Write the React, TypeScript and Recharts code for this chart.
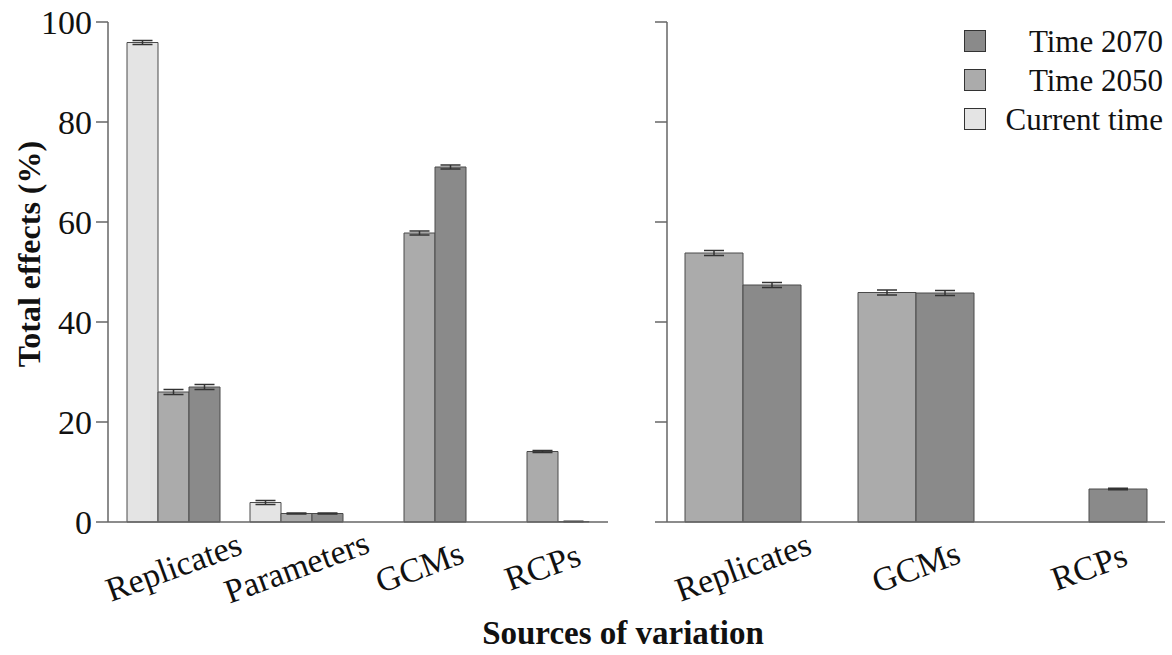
import React from "react";
import { Bar, BarChart, ErrorBar, XAxis, YAxis } from "recharts";

const leftCategories = ["Replicates", "Parameters", "GCMs", "RCPs"];
const leftCurrent = [95.9, 3.9, 0, 0];
const leftT2050 = [26.0, 1.7, 57.8, 14.1];
const leftT2070 = [27.0, 1.7, 71.0, 0.1];
const leftErrCurrent = [0.4, 0.4, 0, 0];
const leftErr2050 = [0.5, 0.1, 0.4, 0.2];
const leftErr2070 = [0.5, 0.1, 0.4, 0.05];

const rightCategories = ["Replicates", "GCMs", "RCPs"];
const rightT2050 = [53.8, 45.9, 0];
const rightT2070 = [47.4, 45.8, 6.6];
const rightErr2050 = [0.5, 0.5, 0];
const rightErr2070 = [0.5, 0.5, 0.15];

const yTicks = [0, 20, 40, 60, 80, 100];

const FONT = '"Liberation Serif", "Times New Roman", serif';
const COLORS = { current: "#e4e4e4", t2050: "#ababab", t2070: "#8a8a8a" };
const AXIS = "#666";
const BAR_STROKE = "#4a4a4a";

const leftData = leftCategories.map((name, i) => ({
  name,
  current: leftCurrent[i],
  t2050: leftT2050[i],
  t2070: leftT2070[i],
  eCurrent: leftErrCurrent[i],
  e2050: leftErr2050[i],
  e2070: leftErr2070[i],
}));

const rightData = rightCategories.map((name, i) => ({
  name,
  t2050: rightT2050[i],
  t2070: rightT2070[i],
  e2050: rightErr2050[i],
  e2070: rightErr2070[i],
}));

const legend = [
  { label: "Time 2070", color: COLORS.t2070 },
  { label: "Time 2050", color: COLORS.t2050 },
  { label: "Current time", color: COLORS.current },
];

function RotatedTick({ x, y, payload }: { x?: number; y?: number; payload?: { value: string } }) {
  const cy = (y ?? 0) + 45;
  return (
    <text
      x={x}
      y={cy}
      textAnchor="middle"
      dominantBaseline="central"
      transform={`rotate(-20 ${x} ${cy})`}
      fontFamily={FONT}
      fontSize={34}
      fill="#111"
    >
      {payload?.value}
    </text>
  );
}

function errorBar(key: string) {
  return <ErrorBar dataKey={key} width={10} stroke="#333" strokeWidth={1.5} />;
}

export default function App() {
  return (
    <div
      style={{
        position: "absolute",
        left: 0,
        top: 0,
        width: 1172,
        height: 655,
        background: "#fff",
        fontFamily: FONT,
        color: "#111",
      }}
    >
      <div style={{ position: "absolute", left: 0, top: 0 }}>
        <BarChart
          width={640}
          height={655}
          data={leftData}
          margin={{ top: 22, right: 32, left: 28, bottom: 33 }}
          barCategoryGap={15}
          barGap={0}
        >
          <XAxis
            dataKey="name"
            height={100}
            padding={{ left: 4, right: 4 }}
            stroke={AXIS}
            strokeWidth={1.5}
            tickLine={false}
            tickSize={0}
            tickMargin={0}
            tick={<RotatedTick />}
            interval={0}
          />
          <YAxis
            width={80}
            domain={[0, 100]}
            ticks={yTicks}
            stroke={AXIS}
            strokeWidth={1.5}
            tickSize={12}
            tickMargin={4}
            tick={{ fill: "#111", fontSize: 34, fontFamily: FONT }}
          />
          <Bar dataKey="current" fill={COLORS.current} stroke={BAR_STROKE} strokeWidth={1} isAnimationActive={false}>
            {errorBar("eCurrent")}
          </Bar>
          <Bar dataKey="t2050" fill={COLORS.t2050} stroke={BAR_STROKE} strokeWidth={1} isAnimationActive={false}>
            {errorBar("e2050")}
          </Bar>
          <Bar dataKey="t2070" fill={COLORS.t2070} stroke={BAR_STROKE} strokeWidth={1} isAnimationActive={false}>
            {errorBar("e2070")}
          </Bar>
        </BarChart>
      </div>

      <div style={{ position: "absolute", left: 640, top: 0 }}>
        <BarChart
          width={532}
          height={655}
          data={rightData}
          margin={{ top: 22, right: 7, left: 7, bottom: 33 }}
          barCategoryGap={28.5}
          barGap={0}
        >
          <XAxis
            dataKey="name"
            height={100}
            padding={{ left: -10.5, right: -10.5 }}
            stroke={AXIS}
            strokeWidth={1.5}
            tickLine={false}
            tickSize={0}
            tickMargin={0}
            tick={<RotatedTick />}
            interval={0}
          />
          <YAxis
            width={20}
            domain={[0, 100]}
            ticks={yTicks}
            stroke={AXIS}
            strokeWidth={1.5}
            tickSize={12}
            tickFormatter={() => ""}
          />
          <Bar dataKey="t2050" fill={COLORS.t2050} stroke={BAR_STROKE} strokeWidth={1} isAnimationActive={false}>
            {errorBar("e2050")}
          </Bar>
          <Bar dataKey="t2070" fill={COLORS.t2070} stroke={BAR_STROKE} strokeWidth={1} isAnimationActive={false}>
            {errorBar("e2070")}
          </Bar>
        </BarChart>
      </div>

      <div style={{ position: "absolute", left: 964, top: 21.5, width: 199 }}>
        {legend.map(({ label, color }) => (
          <div
            key={label}
            style={{ height: 39, display: "flex", alignItems: "center", justifyContent: "space-between" }}
          >
            <span
              style={{
                width: 20,
                height: 20,
                background: color,
                border: "1.5px solid #333",
                display: "inline-block",
              }}
            />
            <span style={{ fontSize: 31, lineHeight: "31px" }}>{label}</span>
          </div>
        ))}
      </div>

      <div
        style={{
          position: "absolute",
          left: 29,
          top: 254,
          transform: "translate(-50%, -50%) rotate(-90deg)",
          whiteSpace: "nowrap",
          fontWeight: "bold",
          fontSize: 32,
          lineHeight: "32px",
        }}
      >
        Total effects (%)
      </div>

      <div
        style={{
          position: "absolute",
          left: 623,
          top: 617,
          transform: "translateX(-50%)",
          whiteSpace: "nowrap",
          fontWeight: "bold",
          fontSize: 33,
          lineHeight: "33px",
        }}
      >
        Sources of variation
      </div>
    </div>
  );
}
